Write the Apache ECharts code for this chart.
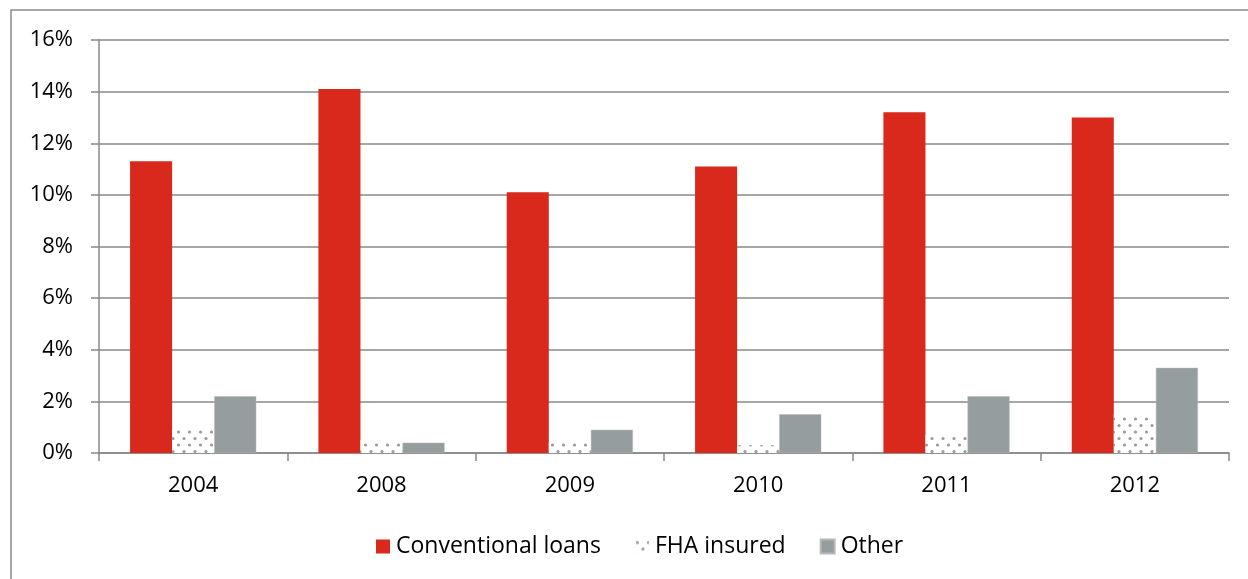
<!DOCTYPE html>
<html>
<head>
<meta charset="utf-8">
<script src="https://cdn.jsdelivr.net/npm/echarts@6/dist/echarts.min.js"></script>
<style>
  html, body { margin: 0; padding: 0; background: #fff; }
  #chart { width: 1248px; height: 579px; }
</style>
</head>
<body>
<div id="chart"></div>
<script>
// Share of loans by type, per year (percent)
const years = ['2004', '2008', '2009', '2010', '2011', '2012'];
const conventional = [11.3, 14.1, 10.1, 11.1, 13.2, 13.0];
const fhaInsured = [0.9, 0.5, 0.4, 0.3, 0.7, 1.5];
const other = [2.2, 0.4, 0.9, 1.5, 2.2, 3.3];
const yTicks = [0, 2, 4, 6, 8, 10, 12, 14, 16];

// Dotted fill for the FHA series: staggered grey dots on white
function dotPattern() {
  const c = document.createElement('canvas');
  c.width = 11; c.height = 13;
  const g = c.getContext('2d');
  g.fillStyle = '#ffffff';
  g.fillRect(0, 0, c.width, c.height);
  g.fillStyle = '#9a9a9a';
  [[2.5, 3], [8, 9.5]].forEach(([x, y]) => {
    g.beginPath();
    g.arc(x, y, 1.6, 0, Math.PI * 2);
    g.fill();
  });
  return c;
}

const font = '"Open Sans", "DejaVu Sans", sans-serif';
const chart = echarts.init(document.getElementById('chart'), null, { renderer: 'canvas' });

chart.setOption({
  animation: false,
  backgroundColor: '#ffffff',
  graphic: [{
    type: 'rect',
    shape: { x: 11, y: 10, width: 1250, height: 620 },
    style: { fill: 'none', stroke: '#8a8a8a', lineWidth: 1.5 },
    silent: true,
    z: -1
  }],
  grid: { left: 99, right: 19, top: 40, bottom: 126, containLabel: false },
  legend: {
    top: 535,
    left: 376,
    padding: 0,
    itemWidth: 14,
    itemHeight: 14,
    itemGap: 34,
    icon: 'rect',
    textStyle: { fontFamily: font, fontSize: 23, color: '#000', padding: [0, 0, 0, 1] },
    data: ['Conventional loans', 'FHA insured', 'Other']
  },
  xAxis: {
    type: 'category',
    data: years,
    axisLine: { lineStyle: { color: '#888', width: 1.5 } },
    axisTick: { show: true, length: 8, alignWithLabel: false, lineStyle: { color: '#888', width: 1.5 } },
    axisLabel: { fontFamily: font, fontSize: 22, color: '#000', margin: 22 }
  },
  yAxis: {
    type: 'value',
    min: yTicks[0],
    max: yTicks[yTicks.length - 1],
    interval: 2,
    axisLine: { show: true, lineStyle: { color: '#888', width: 1.5 } },
    axisTick: { show: true, length: 8, lineStyle: { color: '#888', width: 1.5 } },
    axisLabel: { fontFamily: font, fontSize: 22, color: '#000', margin: 26, formatter: v => v + '%' },
    splitLine: { lineStyle: { color: '#888', width: 1.5 } }
  },
  series: [
    {
      name: 'Conventional loans',
      type: 'bar',
      data: conventional,
      barGap: '0%',
      barCategoryGap: '33%',
      itemStyle: { color: '#d9291d' }
    },
    {
      name: 'FHA insured',
      type: 'bar',
      data: fhaInsured,
      itemStyle: { color: { image: dotPattern(), repeat: 'repeat' } }
    },
    {
      name: 'Other',
      type: 'bar',
      data: other,
      itemStyle: { color: '#969d9f', borderColor: '#b4babb', borderWidth: 0.5 }
    }
  ]
});
</script>
</body>
</html>
